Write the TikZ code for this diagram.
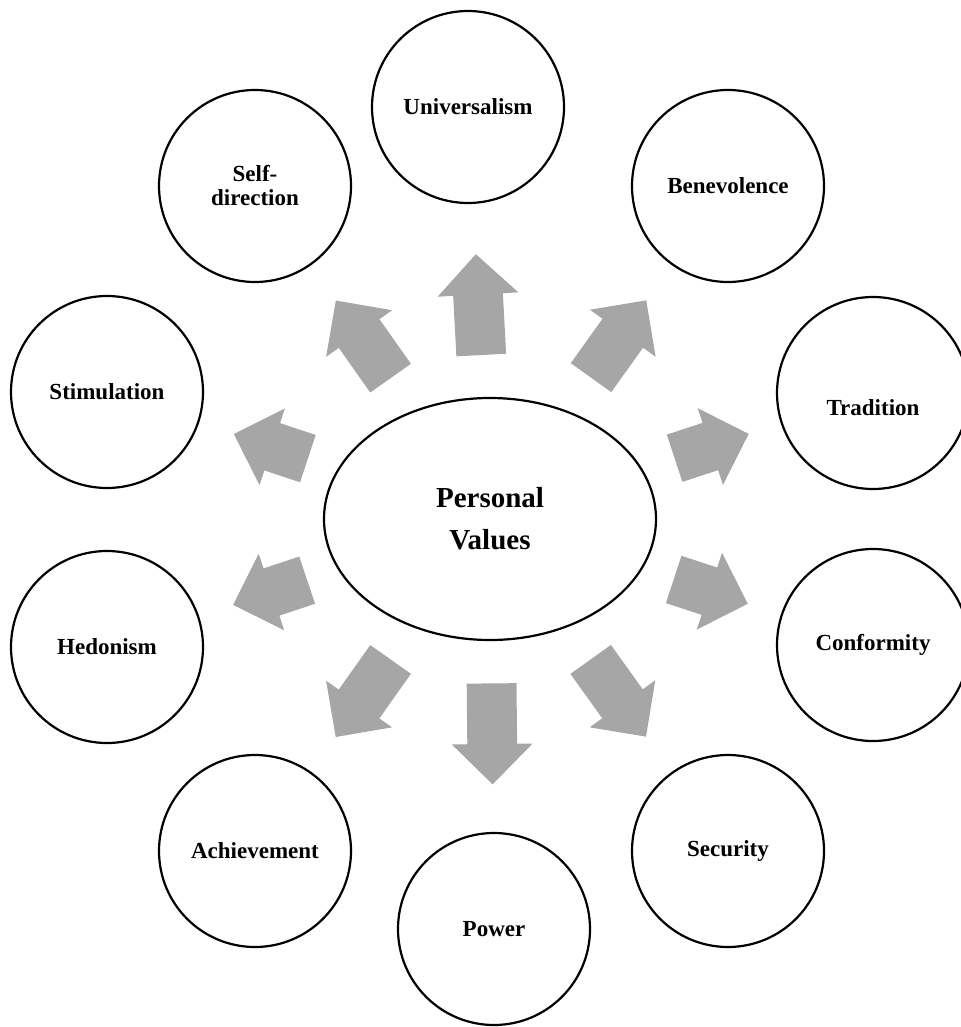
\documentclass[tikz,border=0pt]{standalone}
\usepackage{fontspec}
\setmainfont{Liberation Serif}
\usepackage{tikz}
\usetikzlibrary{shapes,arrows,positioning,calc}

\definecolor{arrowgray}{RGB}{166,166,166}

\tikzset{
    valtext/.style={font=\bfseries\fontsize{11.5}{12}\selectfont},
    valcirc/.style={circle, draw, line width=1.1pt, minimum size=96pt, inner sep=0pt, align=center, valtext},
    valcore/.style={ellipse, draw, line width=1.1pt, minimum width=166pt, minimum height=121pt, inner sep=0pt, align=center, font=\bfseries\fontsize{14.5}{21}\selectfont},
    valarrow/.style={single arrow, fill=arrowgray, draw=none, inner xsep=0pt, inner ysep=12.25pt, single arrow head extend=7.75pt, single arrow tip angle=90, sloped, allow upside down, anchor=tail}
}

\begin{document}
\begin{tikzpicture}[x=0.5pt, y=-0.5pt]
    \useasboundingbox (0,0) rectangle (961,1027);

    \node[valcore] (pv) at (490,519) {Personal\\Values};

    % the ten values round the core
    \node[valcirc] (uni) at (468,107) {Universalism};
    \node[valcirc] (bene) at (728,186) {Benevolence};
    \node[valcirc, label={[valtext, yshift=-7.5pt]center:Tradition}] (trad) at (873,393) {};
    \node[valcirc] (conf) at (873,645) {Conformity};
    \node[valcirc] (secu) at (728,851) {Security};
    \node[valcirc] (powr) at (494,929) {Power};
    \node[valcirc] (achv) at (255,851) {Achievement};
    \node[valcirc] (hedo) at (107,647) {Hedonism};
    \node[valcirc] (stim) at (107,392) {Stimulation};
    \node[valcirc] (selfd) at (255,186) {Self-\\direction};

    % block arrows pointing out
    \foreach \tgt/\t/\len in {uni/0.397/50.5pt, bene/0.4235/47.5pt, trad/0.481/39pt, conf/0.4786/39pt, secu/0.422/47.5pt,
        powr/0.4/50.5pt, achv/0.422/47.5pt, hedo/0.4765/39pt, stim/0.4745/39pt, selfd/0.422/47.5pt}
        \path (pv.center) -- (\tgt.center) node[valarrow, pos=\t, minimum height=\len] (a-\tgt) {};
\end{tikzpicture}
\end{document}
